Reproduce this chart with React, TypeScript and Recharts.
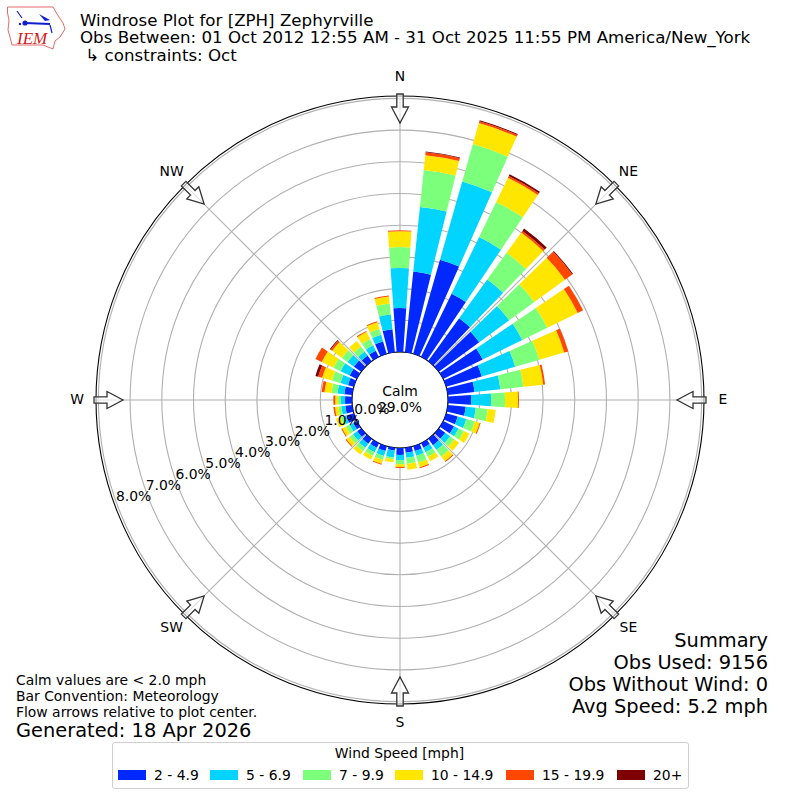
import React from 'react';
import { RadialBarChart, RadialBar, PolarGrid, PolarAngleAxis, PolarRadiusAxis, Legend } from 'recharts';

const directions = [0,10,20,30,40,50,60,70,80,90,100,110,120,130,140,150,160,170,180,190,200,210,220,230,240,250,260,270,280,290,300,310,320,330,340,350];
const speed2to5 =   [1.39,2.56,3.09,2.21,1.67,1.58,1.39,1.17,0.85,0.73,0.57,0.38,0.38,0.25,0.25,0.16,0.16,0.16,0.22,0.09,0.16,0.16,0.19,0.16,0.13,0.25,0.22,0.22,0.25,0.19,0.25,0.28,0.22,0.22,0.41,0.73];
const speed5to7 =   [1.26,2.05,2.56,1.99,1.51,1.17,1.39,1.10,0.82,0.63,0.32,0.28,0.16,0.19,0.19,0.16,0.16,0.16,0.16,0.22,0.16,0.16,0.16,0.16,0.13,0.09,0.13,0.13,0.22,0.25,0.32,0.25,0.16,0.19,0.22,0.47];
const speed7to10 =  [0.66,1.17,1.23,1.23,1.04,0.98,0.88,0.79,0.73,0.44,0.38,0.28,0.19,0.16,0.25,0.16,0.22,0.19,0.13,0.06,0.13,0.13,0.13,0.13,0.13,0.09,0.09,0.09,0.19,0.28,0.25,0.22,0.19,0.22,0.19,0.35];
const speed10to15 = [0.50,0.47,0.69,0.85,0.79,1.20,1.07,0.82,0.63,0.41,0.25,0.16,0.19,0.19,0.19,0.16,0.16,0.19,0.09,0.09,0.13,0.13,0.13,0.13,0.13,0.16,0.11,0.09,0.22,0.32,0.41,0.38,0.22,0.25,0.22,0.22];
const speed15to20 = [0.03,0.09,0.06,0.06,0.06,0.28,0.19,0.13,0.06,0.03,0,0.03,0,0,0.03,0,0.03,0,0.03,0,0.03,0,0,0.03,0.03,0,0.05,0.06,0.09,0.13,0.22,0.06,0,0.03,0.03,0.03];
const speed20up =   [0,0.03,0.03,0.06,0.09,0.03,0,0,0,0,0,0,0,0,0,0,0,0,0,0,0,0,0,0,0,0,0,0,0,0.09,0,0.03,0,0,0,0];

const data = directions.map((dir, i) => ({
  dir,
  s1: speed2to5[i], s2: speed5to7[i], s3: speed7to10[i], s4: speed10to15[i], s5: speed15to20[i], s6: speed20up[i],
}));

const seriesKeys = ['s1', 's2', 's3', 's4', 's5', 's6'];
const seriesLabels = ['2 - 4.9', '5 - 6.9', '7 - 9.9', '10 - 14.9', '15 - 19.9', '20+'];
const seriesColors = ['#0028ff', '#00d4ff', '#7cff7a', '#ffe600', '#ff4700', '#7f0000'];
const radiusTicks = [0, 1, 2, 3, 4, 5, 6, 7, 8];
const gridAngles = [90, 45, 0, -45, -90, -135, 180, 135];
const compass: Record<number, string> = { 0: 'N', 45: 'NE', 90: 'E', 135: 'SE', 180: 'S', 225: 'SW', 270: 'W', 315: 'NW' };
const titleLines = ['Windrose Plot for [ZPH] Zephyrville', 'Obs Between: 01 Oct 2012 12:55 AM - 31 Oct 2025 11:55 PM America/New_York', ' ↳ constraints: Oct'];
const noteLines = ['Calm values are < 2.0 mph', 'Bar Convention: Meteorology', 'Flow arrows relative to plot center.'];
const summaryLines = ['Summary', 'Obs Used: 9156', 'Obs Without Wind: 0', 'Avg Speed: 5.2 mph'];

const FONT = '"DejaVu Sans", sans-serif';
const C = 400;

function CompassMark({ angle }: { angle: number }) {
  return (
    <g transform={`rotate(${angle} ${C} ${C})`}>
      <polygon
        points={`${C - 3.2},${C - 306} ${C + 3.2},${C - 306} ${C + 3.2},${C - 293} ${C + 8.5},${C - 293} ${C},${C - 277} ${C - 8.5},${C - 293} ${C - 3.2},${C - 293}`}
        fill="#ffffff"
        fillOpacity={0.6}
        stroke="#333333"
        strokeWidth={1.3}
      />
    </g>
  );
}

function ringTick(props: any) {
  const { x, y, payload } = props;
  return (
    <text x={x + 17} y={y - 7.5} textAnchor="middle" dominantBaseline="central" fontSize={13.9} fontFamily={FONT} fill="#000">
      {payload.value.toFixed(1)}%
    </text>
  );
}

function LegendBox() {
  const xs = [5, 97, 190, 282, 393, 504];
  return (
    <div style={{ position: 'relative', width: 577, height: 47, boxSizing: 'border-box', border: '1px solid #d0d0d0', borderRadius: 3, background: '#fff', fontFamily: FONT, fontSize: 13.9, color: '#000' }}>
      <div style={{ position: 'absolute', left: -2, right: 0, top: 2, textAlign: 'center' }}>Wind Speed [mph]</div>
      {seriesLabels.map((s, i) => (
        <React.Fragment key={s}>
          <div style={{ position: 'absolute', left: xs[i], top: 27, width: 28, height: 9.5, background: seriesColors[i] }} />
          <div style={{ position: 'absolute', left: xs[i] + 36, top: 23.5, whiteSpace: 'nowrap' }}>{s}</div>
        </React.Fragment>
      ))}
    </div>
  );
}

function Logo() {
  return (
    <g>
      <path d="M7.5 7 L53 7 L57 14 L63 23 L65 29 L60 37 L55 41 L53 49 L43 45 L12 45 L10 37 L8 30 L9 20 L7.5 13 Z" fill="#fff" stroke="#e56a6a" strokeWidth={1} />
      <path d="M25 23 L50 24" stroke="#1020d0" strokeWidth={1.8} fill="none" />
      <circle cx={25} cy={23} r={2.6} fill="#1020d0" />
      <path d="M39 14 L50 20 L45 21 Z" fill="#1020d0" />
      <path d="M17 11 L22 18 M50 25 L52 33" stroke="#1020d0" strokeWidth={1.2} fill="none" />
      <circle cx={20} cy={24} r={1.2} fill="#1020d0" />
      <text x={17} y={43.5} fontFamily='"Liberation Serif", serif' fontStyle="italic" fontSize={17} fill="#d02020">IEM</text>
    </g>
  );
}

export default function App() {
  return (
    <div style={{ position: 'absolute', left: 0, top: 0, width: 800, height: 800, background: '#fff' }}>
      <RadialBarChart
        width={800}
        height={800}
        data={data}
        layout="centric"
        cx={C}
        cy={C}
        innerRadius={48}
        outerRadius={304}
        startAngle={85}
        endAngle={-275}
        barCategoryGap="11%"
        margin={{ top: 0, right: 0, bottom: 0, left: 0 }}
      >
        <PolarAngleAxis type="category" dataKey="dir" tick={false} axisLine={false} tickLine={false} />
        <PolarRadiusAxis type="number" angle={200} domain={[0, 8.076]} ticks={radiusTicks} allowDataOverflow tick={false} axisLine={false} tickLine={false} />
        {seriesKeys.map((k, i) => (
          <RadialBar key={k} dataKey={k} stackId="wind" fill={seriesColors[i]} isAnimationActive={false} />
        ))}
        <PolarGrid gridType="circle" polarAngles={gridAngles} stroke="#b0b0b0" strokeWidth={1.1} />
        <PolarGrid gridType="circle" polarAngles={[]} polarRadius={[48, 304]} stroke="#000000" strokeWidth={1.1} />
        <PolarRadiusAxis type="number" angle={200} domain={[0, 8.076]} ticks={radiusTicks} allowDataOverflow tick={ringTick} axisLine={false} tickLine={false} />
        <Legend content={() => <LegendBox />} wrapperStyle={{ position: 'absolute', left: 112, top: 742, width: 577, height: 47 }} />
      </RadialBarChart>
      <svg width={800} height={800} style={{ position: 'absolute', left: 0, top: 0, pointerEvents: 'none' }}>
        <Logo />
        {Object.entries(compass).map(([a, label]) => {
          const angle = Number(a);
          const rad = (angle * Math.PI) / 180;
          return (
            <g key={a}>
              <CompassMark angle={angle} />
              <text x={C + 323 * Math.sin(rad)} y={C - 1 - 323 * Math.cos(rad)} textAnchor="middle" dominantBaseline="central" fontFamily={FONT} fontSize={13.9}>{label}</text>
            </g>
          );
        })}
        {titleLines.map((t, i) => (
          <text key={i} x={80} y={25.5 + i * 17.5} fontFamily={FONT} fontSize={16.67} xmlSpace="preserve">{t}</text>
        ))}
        {noteLines.map((t, i) => (
          <text key={i} x={16} y={685 + i * 16} fontFamily={FONT} fontSize={13.9}>{t}</text>
        ))}
        <text x={16} y={737} fontFamily={FONT} fontSize={19.4}>Generated: 18 Apr 2026</text>
        {summaryLines.map((t, i) => (
          <text key={i} x={768} y={647 + i * 22} textAnchor="end" fontFamily={FONT} fontSize={19.4}>{t}</text>
        ))}
        <text x={C} y={391} textAnchor="middle" dominantBaseline="central" fontFamily={FONT} fontSize={13.9}>Calm</text>
        <text x={C} y={407} textAnchor="middle" dominantBaseline="central" fontFamily={FONT} fontSize={13.9}>29.0%</text>
      </svg>
    </div>
  );
}
